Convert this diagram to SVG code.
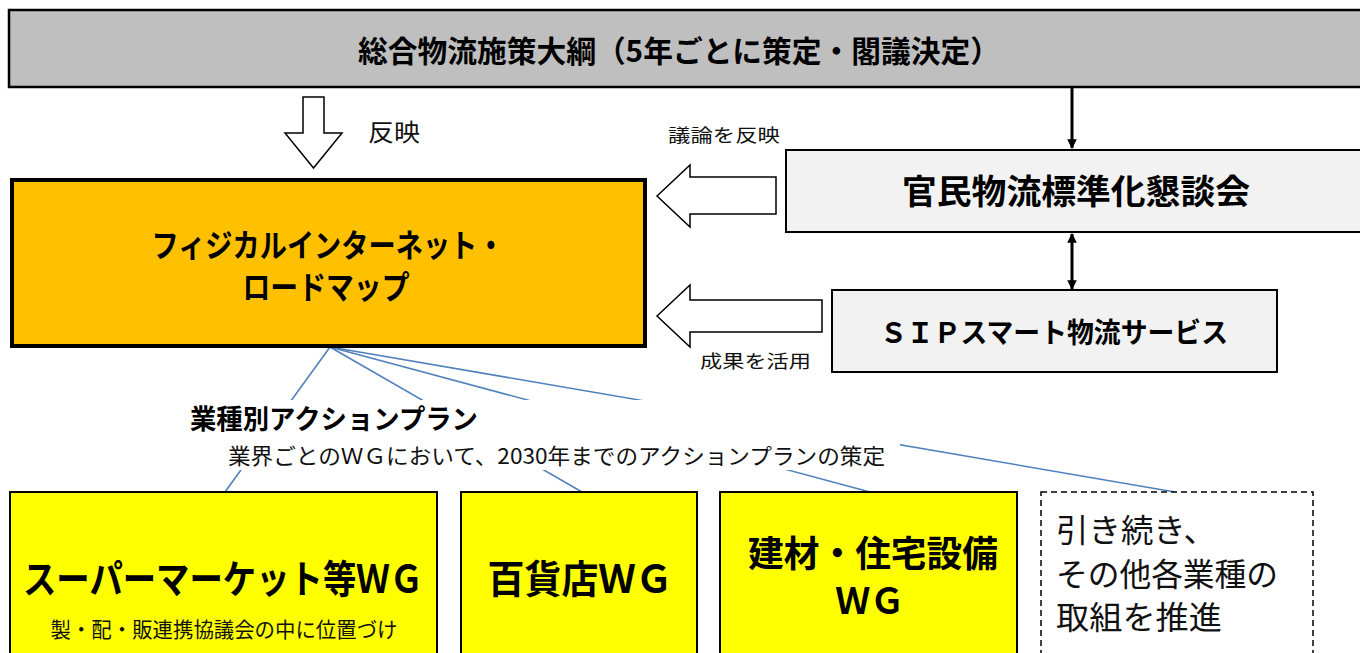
<svg xmlns="http://www.w3.org/2000/svg" width="1360" height="653" viewBox="0 0 1360 653">
<defs>
<style>
.b{font-family:"Noto Sans CJK JP","Noto Sans",sans-serif;font-weight:700;fill:#000}
.r{font-family:"Noto Sans CJK JP","Noto Sans",sans-serif;font-weight:400;fill:#111}
.blk{fill:#fff;stroke:#000;stroke-width:1.5}
.con{stroke:#4F81BD;stroke-width:1.6;fill:none}
.arr{stroke:#000;stroke-width:3;fill:none}
</style>
<marker id="ah" viewBox="0 0 10 10" refX="9" refY="5" markerWidth="3.2" markerHeight="3.2" orient="auto-start-reverse">
<path d="M0,0 L10,5 L0,10 z" fill="#000"/>
</marker>
</defs>
<rect width="1360" height="653" fill="#fff"/>

<g id="connectors">
<line class="con" x1="330" y1="347" x2="225" y2="492"/>
<line class="con" x1="330" y1="347" x2="582" y2="492"/>
<line class="con" x1="330" y1="347" x2="870" y2="492"/>
<line class="con" x1="330" y1="347" x2="1175" y2="492"/>
<line class="arr" x1="1072" y1="88" x2="1072" y2="148" marker-end="url(#ah)"/>
<line class="arr" x1="1072" y1="234" x2="1072" y2="289" marker-start="url(#ah)" marker-end="url(#ah)"/>
<polygon class="blk" points="303,97 324,97 324,133 342,133 313.5,168 285,133 303,133"/>
<polygon class="blk" points="657,196 690,165 690,177 776,177 776,214 690,214 690,227"/>
<polygon class="blk" points="657,316 690,285 690,300 822,300 822,332 690,332 690,347"/>
</g>

<g id="top">
<rect x="9" y="10" width="1360" height="77" fill="#BFBFBF" stroke="#000" stroke-width="2.5"/>
<text class="b" x="679" y="62" font-size="30" text-anchor="middle" textLength="642" lengthAdjust="spacingAndGlyphs">総合物流施策大綱（5年ごとに策定・閣議決定）</text>
</g>

<g id="label-hanei">
<text class="r" x="368" y="141" font-size="24" textLength="52" lengthAdjust="spacingAndGlyphs">反映</text>
</g>
<g id="label-giron">
<text class="r" x="668" y="142" font-size="18" textLength="112" lengthAdjust="spacingAndGlyphs">議論を反映</text>
</g>
<g id="label-seika">
<text class="r" x="700" y="368" font-size="18" textLength="111" lengthAdjust="spacingAndGlyphs">成果を活用</text>
</g>

<g id="roadmap">
<rect x="12" y="180" width="633" height="166" fill="#FFC000" stroke="#000" stroke-width="4"/>
<text class="b" x="328" y="257" font-size="32" text-anchor="middle" textLength="353" lengthAdjust="spacingAndGlyphs">フィジカルインターネット・</text>
<text class="b" x="326" y="299" font-size="32" text-anchor="middle" textLength="167" lengthAdjust="spacingAndGlyphs">ロードマップ</text>
</g>

<g id="kanmin">
<rect x="786" y="150" width="600" height="82" fill="#F2F2F2" stroke="#000" stroke-width="2"/>
<text class="b" x="1076" y="204" font-size="34" text-anchor="middle" textLength="348" lengthAdjust="spacingAndGlyphs">官民物流標準化懇談会</text>
</g>

<g id="sip">
<rect x="832" y="290" width="445" height="82" fill="#F2F2F2" stroke="#000" stroke-width="2"/>
<text class="b" x="1054" y="343" font-size="28" text-anchor="middle" textLength="348" lengthAdjust="spacingAndGlyphs">ＳＩＰスマート物流サービス</text>
</g>

<g id="actionplan">
<rect x="182" y="400" width="718" height="70" fill="#fff"/>
<text class="b" x="190" y="429" font-size="27" textLength="288" lengthAdjust="spacingAndGlyphs">業種別アクションプラン</text>
<text class="r" x="228" y="464" font-size="22" textLength="657" lengthAdjust="spacingAndGlyphs">業界ごとのＷＧにおいて、2030年までのアクションプランの策定</text>
</g>

<g id="wg-super">
<rect x="10" y="492" width="427" height="175" fill="#FFFF00" stroke="#000" stroke-width="2"/>
<text class="b" x="223" y="593" font-size="39" text-anchor="middle" textLength="400" lengthAdjust="spacingAndGlyphs">スーパーマーケット等ＷＧ</text>
<text class="r" x="224" y="637" font-size="21" text-anchor="middle" textLength="347" lengthAdjust="spacingAndGlyphs">製・配・販連携協議会の中に位置づけ</text>
</g>

<g id="wg-dept">
<rect x="461" y="492" width="236" height="175" fill="#FFFF00" stroke="#000" stroke-width="2"/>
<text class="b" x="580" y="593" font-size="39" text-anchor="middle" textLength="185" lengthAdjust="spacingAndGlyphs">百貨店ＷＧ</text>
</g>

<g id="wg-kenzai">
<rect x="720" y="492" width="297" height="175" fill="#FFFF00" stroke="#000" stroke-width="2"/>
<text class="b" x="873" y="567" font-size="36" text-anchor="middle" textLength="250" lengthAdjust="spacingAndGlyphs">建材・住宅設備</text>
<text class="b" x="870" y="614" font-size="36" text-anchor="middle" textLength="69" lengthAdjust="spacingAndGlyphs">ＷＧ</text>
</g>

<g id="others">
<rect x="1041" y="492" width="272" height="175" fill="#fff" stroke="#000" stroke-width="1.5" stroke-dasharray="6,4"/>
<text class="r" x="1056" y="542" font-size="32" textLength="160" lengthAdjust="spacingAndGlyphs">引き続き、</text>
<text class="r" x="1056" y="586" font-size="32" textLength="222" lengthAdjust="spacingAndGlyphs">その他各業種の</text>
<text class="r" x="1056" y="629" font-size="32" textLength="166" lengthAdjust="spacingAndGlyphs">取組を推進</text>
</g>
</svg>
